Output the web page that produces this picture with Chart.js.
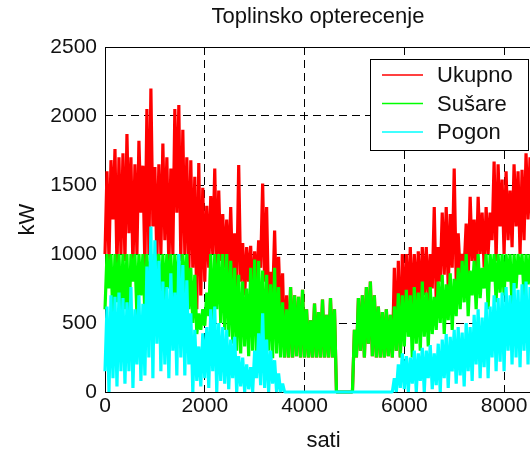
<!DOCTYPE html>
<html>
<head>
<meta charset="utf-8">
<title>Toplinsko opterecenje</title>
<script src="https://cdn.jsdelivr.net/npm/chart.js@4.4.0/dist/chart.umd.min.js"></script>
<style>
  html, body { margin: 0; padding: 0; background: #fff; overflow: hidden; }
  #wrap { width: 636px; height: 460px; }
</style>
</head>
<body>
<div id="wrap"><canvas id="heatChart" width="636" height="460"></canvas></div>
<script>
// hourly load over one year, sampled every 40 h (low / high pairs)
const SAMPLE_HOURS = 40;

const xTicks = [0, 2000, 4000, 6000, 8000];
const yTicks = [0, 500, 1000, 1500, 2000, 2500];

const ukupno = [
  1000,1600,950,1680,1250,1760,900,1700,1000,1730,
  950,1870,1150,1700,900,1650,1000,1820,1300,1640,
  900,2050,1000,2200,1200,1630,950,1650,1000,1800,
  1100,1700,900,1620,1000,2050,1300,2080,950,1900,
  1000,1700,850,1680,900,1560,600,1660,700,1480,
  800,1350,900,1420,1000,1620,850,1460,950,1290,
  900,1250,850,1340,800,1150,750,1645,800,1080,
  700,1050,800,1060,650,1020,750,1100,900,1510,
  800,1340,600,870,650,1170,600,980,550,860,
  250,700,250,760,250,700,260,690,250,740,
  250,600,250,520,250,640,250,580,250,670,
  250,560,250,680,250,600,0,0,0,0,
  0,0,0,0,0,450,250,680,300,700,
  250,760,350,800,260,700,250,620,250,580,
  250,600,260,560,250,900,300,950,250,1000,
  500,1000,600,1050,550,1000,650,1020,600,1050,
  700,1050,650,1000,750,1340,650,1050,800,1300,
  850,1340,750,1290,900,1620,800,1150,850,1000,
  900,1220,800,1415,950,1250,850,1415,1000,1300,
  900,1340,1000,1300,1100,1670,950,1650,1200,1540,
  1000,1600,1100,1460,1050,1650,1200,1600,1000,1610,
  1100,1730,1250,1700,1150,1750,1300,1680,1200,1720
];

const susare = [
  600,1000,750,1000,500,1000,650,1000,550,1000,
  600,1000,450,1000,800,1000,550,1000,700,1000,
  550,1000,700,1000,500,1000,850,1000,600,1000,
  650,1000,750,1000,550,1000,700,1000,600,1000,
  700,1000,600,900,500,850,420,570,450,600,
  480,720,550,1000,450,1000,600,1000,500,1000,
  450,1000,400,950,350,900,300,850,280,800,
  330,750,260,900,300,960,250,950,320,880,
  250,850,300,780,244,900,280,760,250,650,
  250,600,250,760,250,700,260,690,250,740,
  250,600,250,520,250,640,250,580,250,670,
  250,560,250,680,250,600,0,0,0,0,
  0,0,0,0,0,450,250,680,300,700,
  250,760,350,800,260,700,250,620,250,580,
  250,600,260,560,250,620,300,715,250,700,
  330,740,400,700,250,760,350,720,300,800,
  400,720,330,760,420,690,450,800,500,850,
  420,780,520,860,450,820,550,900,600,950,
  650,1000,550,880,700,950,600,1000,680,900,
  750,1000,600,1000,800,1000,650,1000,720,1000,
  700,1000,800,1000,620,1000,750,1000,850,1000,
  680,1000,780,1000,700,1000,820,1000,750,1000
];

const pogon = [
  150,620,0,700,100,690,40,720,150,680,
  60,650,150,760,30,600,200,700,80,640,
  120,910,250,1200,100,1100,350,950,150,800,
  200,760,100,860,300,720,120,1000,250,920,
  120,810,200,570,0,450,80,330,40,425,
  100,470,30,600,150,620,0,500,80,470,
  60,450,20,380,100,400,0,260,40,250,
  0,200,20,180,0,300,100,425,50,570,
  30,380,0,300,60,230,0,135,0,60,
  0,0,0,0,0,0,0,0,0,0,
  0,0,0,0,0,0,0,0,0,0,
  0,0,0,0,0,0,0,0,0,0,
  0,0,0,0,0,0,0,0,0,0,
  0,0,0,0,0,0,0,0,0,0,
  0,0,0,0,0,100,0,200,30,280,
  20,260,0,250,60,300,0,280,80,320,
  0,300,100,340,20,280,50,350,0,380,
  100,420,30,400,150,450,60,470,120,430,
  40,500,150,470,80,560,200,600,100,540,
  180,650,100,620,250,700,150,680,220,720,
  150,760,300,700,200,790,250,740,180,780,
  300,800,200,760,280,820,150,780,260,800
];

const FONT = '"Liberation Sans", Arial, Helvetica, sans-serif';
const TEXT = '#111';

function toPoints(values) {
  return values.map((v, i) => ({ x: i * SAMPLE_HOURS, y: v }));
}

// black box round the plot, under the data like in matlab
const axesFrame = {
  id: 'axesFrame',
  beforeDatasetsDraw(chart) {
    const { ctx, chartArea: a } = chart;
    ctx.save();
    ctx.strokeStyle = '#000';
    ctx.lineWidth = 1;
    ctx.strokeRect(a.left + 0.5, a.top + 0.5, a.right - a.left, a.bottom - a.top);
    ctx.restore();
  }
};

// boxed legend in the top right corner of the axes
const boxLegend = {
  id: 'boxLegend',
  afterDatasetsDraw(chart) {
    const { ctx, chartArea: a } = chart;
    const right = a.right - 13, top = a.top + 12;
    const w = 159, h = 92;
    const left = right - w;
    ctx.save();
    ctx.fillStyle = '#fff';
    ctx.fillRect(left, top, w, h);
    ctx.strokeStyle = '#000';
    ctx.lineWidth = 1;
    ctx.strokeRect(left + 0.5, top + 0.5, w - 1, h - 1);
    ctx.font = '22px ' + FONT;
    ctx.textBaseline = 'middle';
    chart.data.datasets.forEach((ds, k) => {
      const y = top + 16 + k * 28.5;
      ctx.strokeStyle = ds.borderColor;
      ctx.lineWidth = 1.5;
      ctx.beginPath();
      ctx.moveTo(left + 12, y);
      ctx.lineTo(left + 53, y);
      ctx.stroke();
      ctx.fillStyle = TEXT;
      ctx.fillText(ds.label, left + 67, y + 1);
    });
    ctx.restore();
  }
};

function series(label, values, color, order) {
  return {
    label: label,
    data: toPoints(values),
    borderColor: color,
    backgroundColor: color,
    borderWidth: 3.2,
    borderJoinStyle: 'bevel',
    pointRadius: 0,
    tension: 0,
    fill: false,
    clip: 2,
    order: order
  };
}

const tickFont = { family: FONT, size: 21 };
const labelFont = { family: FONT, size: 22, lineHeight: 1.2 };

const ctx = document.getElementById('heatChart').getContext('2d');

new Chart(ctx, {
  type: 'line',
  data: {
    datasets: [
      series('Ukupno', ukupno, '#ff0000', 2),
      series('Sušare', susare, '#00ff00', 1),
      series('Pogon', pogon, '#00ffff', 0)
    ]
  },
  options: {
    responsive: false,
    animation: false,
    events: [],
    plugins: {
      legend: { display: false },
      tooltip: { enabled: false },
      title: {
        display: true,
        text: 'Toplinsko opterecenje',
        color: TEXT,
        font: { family: FONT, size: 22, weight: 'normal', lineHeight: 1.2 },
        padding: { top: 4, bottom: 16.6 }
      }
    },
    scales: {
      x: {
        type: 'linear',
        min: 0,
        max: 8760,
        afterBuildTicks: s => { s.ticks = xTicks.map(v => ({ value: v })); },
        afterFit: s => { s.height = 68; },
        grid: { color: '#000', lineWidth: 1, drawTicks: false },
        border: { display: false, dash: [8, 5] },
        ticks: {
          color: TEXT,
          padding: 2,
          maxRotation: 0,
          font: tickFont,
          callback: v => String(v)
        },
        title: {
          display: true,
          text: 'sati',
          color: TEXT,
          font: labelFont,
          padding: { top: 0, bottom: 6 }
        }
      },
      y: {
        min: 0,
        max: 2500,
        afterBuildTicks: s => { s.ticks = yTicks.map(v => ({ value: v })); },
        afterFit: s => { s.width = 105; },
        grid: { color: '#000', lineWidth: 1, drawTicks: false },
        border: { display: false, dash: [8, 5] },
        ticks: {
          color: TEXT,
          padding: 8,
          font: tickFont,
          callback: v => String(v)
        },
        title: {
          display: true,
          text: 'kW',
          color: TEXT,
          font: labelFont,
          padding: { top: 15, bottom: 0 }
        }
      },
      // empty strip on the right so the axes end at 8760 h
      side: {
        position: 'right',
        grid: { display: false },
        border: { display: false },
        ticks: { display: false },
        afterFit: s => { s.width = 94; }
      }
    }
  },
  plugins: [axesFrame, boxLegend]
});
</script>
</body>
</html>
